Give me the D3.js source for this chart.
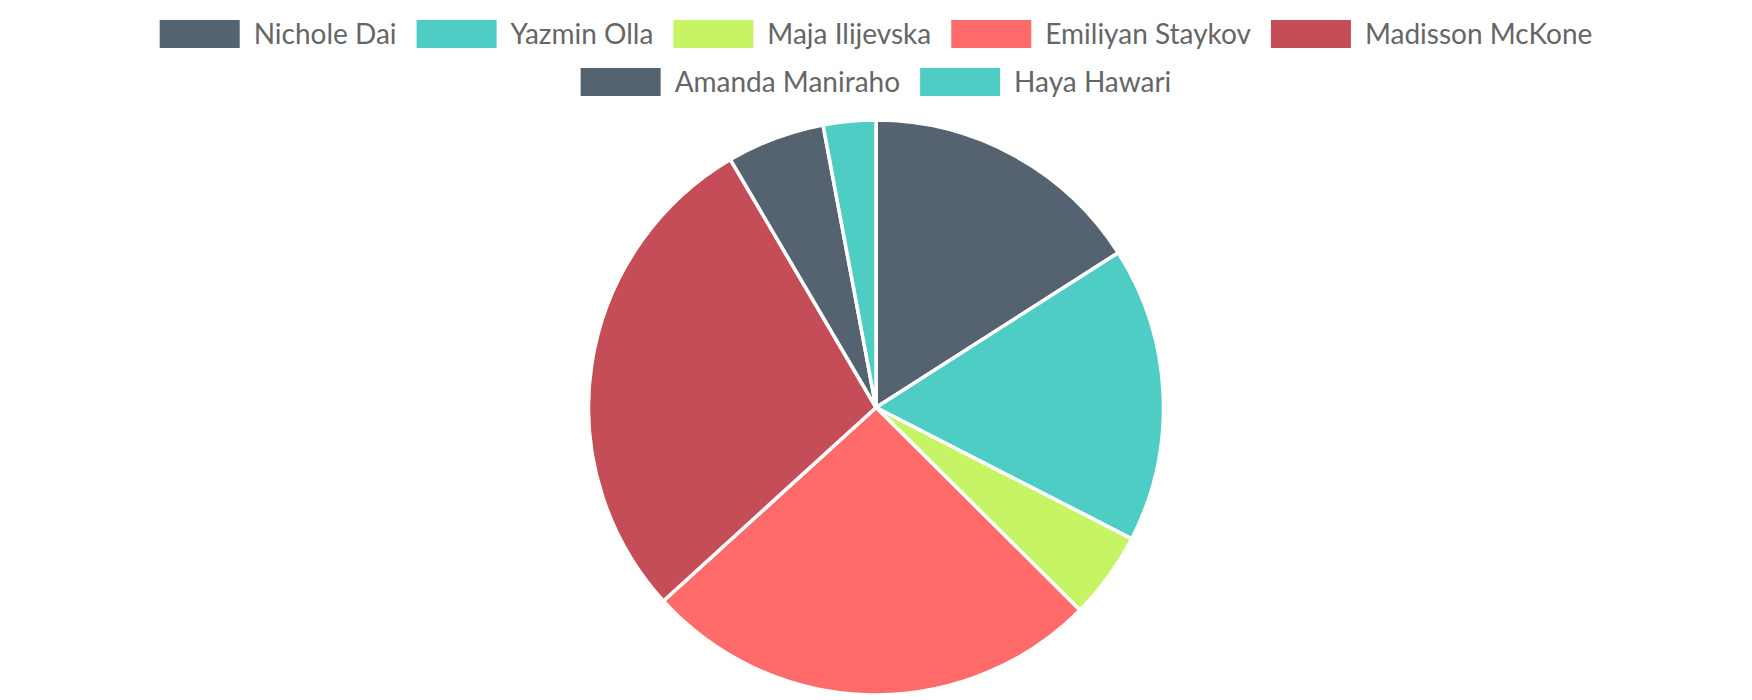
<!DOCTYPE html>
<html>
<head>
<meta charset="utf-8">
<script src="https://cdn.jsdelivr.net/npm/d3@7"></script>
<style>
  html, body { margin: 0; padding: 0; background: #fff; }
  svg { display: block; }
</style>
</head>
<body>
<svg id="chart" width="1752" height="700"></svg>
<script>
const names = ["Nichole Dai", "Yazmin Olla", "Maja Ilijevska", "Emiliyan Staykov", "Madisson McKone", "Amanda Maniraho", "Haya Hawari"];
const values = [15.95, 16.6, 4.9, 25.8, 28.3, 5.5, 2.95];
const colors = ["#556270", "#4ECDC4", "#C7F464", "#FF6B6B", "#C44D58", "#556270", "#4ECDC4"];

const W = 1752, H = 700;
const svg = d3.select("#chart");
const cx = W / 2, cy = 407.5, radius = 287.5;

const pie = d3.pie().sort(null).value(d => d)(values);
const arc = d3.arc().innerRadius(0).outerRadius(radius);
const g = svg.append("g").attr("transform", `translate(${cx},${cy})`);
g.selectAll("path").data(pie).join("path")
  .attr("d", arc)
  .attr("fill", (d, i) => colors[i])
  .attr("stroke", "#fff")
  .attr("stroke-width", 3.5)
  .attr("stroke-linejoin", "round");

// Legend
const fontSize = 28, boxW = 80, boxH = 28, textGap = 14, itemGap = 20;
const rows = [[0,1,2,3,4],[5,6]];
const rowTop = [20, 68];
const leg = svg.append("g").attr("font-family", "Lato, sans-serif").attr("font-size", fontSize).attr("fill", "#666");
rows.forEach((row, ri) => {
  const items = row.map(i => {
    const t = leg.append("text").text(names[i]);
    const w = t.node().getComputedTextLength();
    return {i, t, w};
  });
  const total = d3.sum(items, d => boxW + textGap + d.w) + itemGap * (items.length - 1);
  let x = cx - total / 2;
  items.forEach(it => {
    leg.append("rect").attr("x", x).attr("y", rowTop[ri]).attr("width", boxW).attr("height", boxH)
      .attr("fill", colors[it.i]);
    it.t.attr("x", x + boxW + textGap).attr("y", rowTop[ri] + 24);
    x += boxW + textGap + it.w + itemGap;
  });
});
</script>
</body>
</html>
